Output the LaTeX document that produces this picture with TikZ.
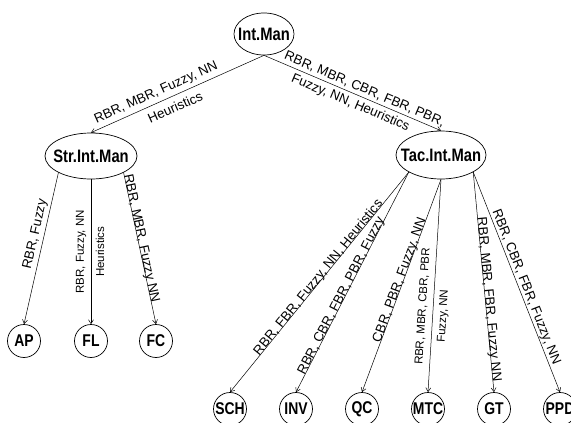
\documentclass[tikz,border=0pt]{standalone}
\usepackage{fontspec}
\setmainfont{Liberation Sans}
\usetikzlibrary{shapes.geometric,arrows.meta}
\newcommand\ntxt[1]{\makebox[0pt]{\scalebox{0.82}[1]{\bfseries #1}}}
\begin{document}
\begin{tikzpicture}[x=1pt,y=-1pt,
  mainnode/.style={ellipse,draw,line width=0.7pt,inner sep=0pt,font=\fontsize{18}{18}\selectfont},
  leaf/.style={circle,draw,line width=0.7pt,minimum size=33pt,inner sep=0pt,font=\fontsize{17}{17}\selectfont},
  conn/.style={line width=0.5pt,-{Straight Barb[length=4pt,width=5pt]}},
  lab/.style={sloped,font=\fontsize{13.3}{13.3}\selectfont},
  slab/.style={font=\fontsize{11.5}{11.5}\selectfont},
  ulab/.style={sloped,anchor=base,font=\fontsize{13.3}{13.3}\selectfont}]
\useasboundingbox (0,0) rectangle (571,423);
% main nodes
\node[mainnode,minimum width=60pt,minimum height=42pt] (int) at (264,34) {\ntxt{Int.Man}};
\node[mainnode,minimum width=92pt,minimum height=46pt] (str) at (91,156) {\ntxt{Str.Int.Man}};
\node[mainnode,minimum width=90pt,minimum height=48pt] (tac) at (441,155) {\ntxt{Tac.Int.Man}};
% leaves
\node[leaf] (ap) at (24,341) {\ntxt{AP}};
\node[leaf] (fl) at (91,341) {\ntxt{FL}};
\node[leaf] (fc) at (156,341) {\ntxt{FC}};
\node[leaf] (sch) at (230,409) {\ntxt{SCH}};
\node[leaf] (inv) at (296,409) {\ntxt{INV}};
\node[leaf] (qc) at (362,409) {\ntxt{QC}};
\node[leaf] (mtc) at (428,409) {\ntxt{MTC}};
\node[leaf] (gt) at (494,409) {\ntxt{GT}};
\node[leaf] (ppd) at (560,409) {\ntxt{PPD}};
% top edges
\draw[conn] (int.south) -- (str.north)
  node[lab,pos=0.60,above,inner sep=3.5pt] {RBR, MBR, Fuzzy, NN}
  node[lab,pos=0.54,below,inner sep=6pt] {Heuristics};
\draw[conn] (int.south) -- (tac.north)
  node[lab,pos=0.55,above,inner sep=2.5pt] {RBR, MBR, CBR, FBR, PBR,}
  node[lab,pos=0.51,below,inner sep=3.7pt] {Fuzzy, NN, Heuristics};
% Str.Int.Man edges
\draw[conn] (str.207) -- (ap.north)
  node[lab,pos=0.42,above,inner sep=2.5pt] {RBR, Fuzzy};
\draw[conn] (str.south) -- (fl.north)
  node[slab,pos=0.5,anchor=south,rotate=90,inner sep=4.5pt] {RBR, Fuzzy, NN}
  node[slab,pos=0.5,anchor=north,rotate=90,inner sep=4.5pt] {Heuristics};
\draw[conn] (str.333) -- (fc.north)
  node[ulab,pos=0.44] {RBR, MBR, Fuzzy NN};
% Tac.Int.Man edges
\draw[conn] (tac.208) -- (sch.north)
  node[ulab,pos=0.49] {RBR, FBR, Fuzzy, NN, Heuristics};
\draw[conn] (tac.208) -- (inv.north)
  node[ulab,pos=0.57] {RBR, CBR, FBR, PBR, Fuzzy};
\draw[conn] (tac.south) -- (qc.north)
  node[ulab,pos=0.48] {CBR, PBR, Fuzzy, NN};
\draw[conn] (tac.south) -- (mtc.north)
  node[lab,slab,pos=0.60,above,inner sep=5.5pt] {RBR, MBR, CBR, PBR}
  node[lab,slab,pos=0.64,below,inner sep=5.5pt] {Fuzzy, NN};
\draw[conn] (tac.332) -- (gt.north)
  node[ulab,pos=0.58] {RBR, MBR, FBR, Fuzzy NN};
\draw[conn] (tac.332) -- (ppd.north)
  node[lab,pos=0.535,above,inner sep=0.5pt] {RBR, CBR, FBR, Fuzzy, NN};
\end{tikzpicture}
\end{document}
